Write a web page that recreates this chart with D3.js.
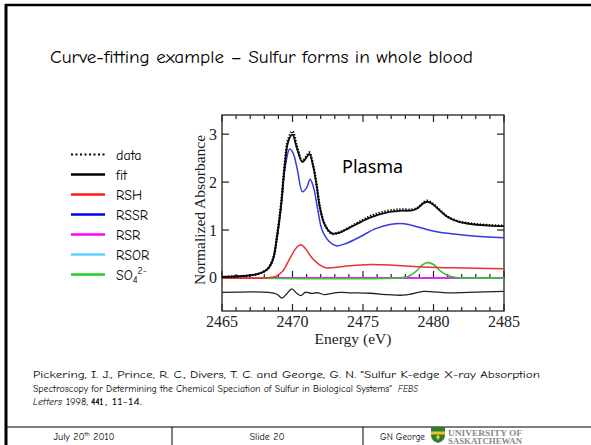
<!DOCTYPE html>
<html>
<head>
<meta charset="utf-8">
<script src="https://cdn.jsdelivr.net/npm/d3@7"></script>
<style>
  body { margin: 0; background: #fff; }
  svg { display: block; }
</style>
</head>
<body>
<svg id="slide" width="591" height="445"></svg>
<script>
// energies (eV) and values
const fitE = [2465, 2466.5, 2467.5, 2468.2, 2468.6, 2468.9, 2469.2, 2469.45, 2469.7, 2470.0, 2470.3, 2470.7, 2471.0, 2471.2, 2471.45, 2471.7, 2471.95, 2472.3, 2472.8, 2473.3, 2474.0, 2474.8, 2475.6, 2476.6, 2477.6, 2478.5, 2478.9, 2479.2, 2479.55, 2479.9, 2480.4, 2481.0, 2481.8, 2482.8, 2484, 2485];
const fitVals = [0.02, 0.04, 0.08, 0.18, 0.38, 0.86, 1.55, 2.35, 2.85, 2.99, 2.72, 2.42, 2.52, 2.59, 2.35, 1.95, 1.46, 1.1, 0.93, 0.94, 1.04, 1.16, 1.27, 1.36, 1.4, 1.41, 1.46, 1.54, 1.59, 1.55, 1.42, 1.27, 1.17, 1.12, 1.09, 1.08];
const dataVals = [0.02, 0.04, 0.08, 0.18, 0.38, 0.87, 1.57, 2.38, 2.9, 3.06, 2.76, 2.44, 2.54, 2.62, 2.37, 1.97, 1.47, 1.11, 0.92, 0.95, 1.05, 1.18, 1.3, 1.39, 1.43, 1.43, 1.47, 1.55, 1.61, 1.56, 1.43, 1.28, 1.18, 1.13, 1.1, 1.09];

const rssrE = [2465, 2466.5, 2467.5, 2468.2, 2468.6, 2468.9, 2469.2, 2469.45, 2469.8, 2470.05, 2470.35, 2470.7, 2471.0, 2471.25, 2471.5, 2471.8, 2472.1, 2472.6, 2473.1, 2473.8, 2474.8, 2475.9, 2477.0, 2477.9, 2478.7, 2479.8, 2481.0, 2482.6, 2485];
const rssrVals = [0.02, 0.04, 0.08, 0.17, 0.36, 0.82, 1.5, 2.25, 2.69, 2.6, 2.25, 1.8, 1.88, 2.06, 1.88, 1.41, 1.0, 0.76, 0.67, 0.72, 0.86, 1.03, 1.12, 1.13, 1.08, 0.99, 0.93, 0.88, 0.84];

const rshE = [2465, 2468.0, 2468.8, 2469.3, 2469.8, 2470.25, 2470.6, 2470.95, 2471.4, 2471.9, 2472.4, 2473.6, 2475.5, 2477.4, 2479.3, 2481.4, 2485];
const rshVals = [0.0, 0.0, 0.03, 0.14, 0.4, 0.62, 0.69, 0.6, 0.41, 0.28, 0.21, 0.24, 0.28, 0.26, 0.23, 0.21, 0.19];

const so4E = [2465, 2477.5, 2478.2, 2478.7, 2479.2, 2479.6, 2480.0, 2480.5, 2481.0, 2481.6, 2485];
const so4Vals = [0, 0, 0.03, 0.12, 0.27, 0.32, 0.28, 0.14, 0.05, 0.01, 0.0];

const flatE = [2465, 2485];
const rsrVals = [0, 0];
const rsorVals = [0, 0];

const resE = [2465, 2468.3, 2468.9, 2469.25, 2469.6, 2469.95, 2470.3, 2470.6, 2470.9, 2471.3, 2471.8, 2472.3, 2472.8, 2473.4, 2474.2, 2475.5, 2476.8, 2477.8, 2478.5, 2479.3, 2480.0, 2481.0, 2482.5, 2485];
const resVals = [-0.3, -0.3, -0.34, -0.42, -0.33, -0.23, -0.32, -0.37, -0.3, -0.32, -0.31, -0.35, -0.32, -0.3, -0.31, -0.32, -0.35, -0.36, -0.33, -0.28, -0.29, -0.31, -0.3, -0.28];

const xTicksMajor = [2465, 2470, 2475, 2480, 2485];
const yTicksMajor = [0, 1, 2, 3];

const legendItems = [
    {name: 'data', color: '#000', dash: '2,2.5'},
    {name: 'fit', color: '#000'},
    {name: 'RSH', color: '#ff1a1a'},
    {name: 'RSSR', color: '#0000e6'},
    {name: 'RSR', color: '#ff00ff'},
    {name: 'RSOR', color: '#66ccff'},
    {name: 'SO4', color: '#22cc22'}
];

const comic = '"Comic Sans MS", "Comic Neue", "Noto Sans", sans-serif';
const serif = '"Liberation Serif", "Times New Roman", serif';

const svg = d3.select('#slide');

//--------------------------------------------------SLIDE FRAME
svg.append('line').attr('x1', 5).attr('x2', 591).attr('y1', 5).attr('y2', 5)
    .attr('stroke', '#000').attr('stroke-width', 2.5);
svg.append('line').attr('x1', 6).attr('x2', 6).attr('y1', 4).attr('y2', 445)
    .attr('stroke', '#000').attr('stroke-width', 3);
svg.append('line').attr('x1', 6).attr('x2', 591).attr('y1', 427).attr('y2', 427)
    .attr('stroke', '#000').attr('stroke-width', 1.2);
[172, 363].forEach(x => {
    svg.append('line').attr('x1', x).attr('x2', x).attr('y1', 427).attr('y2', 445)
        .attr('stroke', '#000').attr('stroke-width', 1);
});

svg.append('text')
    .text('Curve-fitting example – Sulfur forms in whole blood')
    .attr('x', 50).attr('y', 63)
    .attr('textLength', 423).attr('lengthAdjust', 'spacingAndGlyphs')
    .style('font-family', comic).style('font-size', '19px').style('fill', '#000');

//--------------------------------------------------PLOT
const x = d3.scaleLinear().domain([2465, 2485]).range([222, 504]);
const y = d3.scaleLinear().domain([-0.69, 3.4]).range([311, 115]);

const plot = svg.append('g').attr('class', 'plot');

const minorTicks = d3.range(2465, 2486, 1);

// frame
plot.append('rect')
    .attr('x', x(2465)).attr('y', y(3.4))
    .attr('width', x(2485) - x(2465)).attr('height', y(-0.69) - y(3.4))
    .attr('fill', 'none').attr('stroke', '#222').attr('stroke-width', 1.3);

// x ticks: bottom, top and along the zero line (inward)
const tickLen = (d) => (xTicksMajor.includes(d) ? 7 : 4);
minorTicks.forEach(d => {
    plot.append('line').attr('x1', x(d)).attr('x2', x(d))
        .attr('y1', y(-0.69)).attr('y2', y(-0.69) - tickLen(d))
        .attr('stroke', '#222').attr('stroke-width', 1.2);
    plot.append('line').attr('x1', x(d)).attr('x2', x(d))
        .attr('y1', y(3.4)).attr('y2', y(3.4) + tickLen(d))
        .attr('stroke', '#222').attr('stroke-width', 1.2);
    plot.append('line').attr('x1', x(d)).attr('x2', x(d))
        .attr('y1', y(0)).attr('y2', y(0) - tickLen(d))
        .attr('stroke', '#222').attr('stroke-width', 1.2);
});

// y ticks left / right (inward)
yTicksMajor.forEach(d => {
    plot.append('line').attr('x1', x(2465)).attr('x2', x(2465) + 7)
        .attr('y1', y(d)).attr('y2', y(d)).attr('stroke', '#222').attr('stroke-width', 1.2);
    plot.append('line').attr('x1', x(2485)).attr('x2', x(2485) - 7)
        .attr('y1', y(d)).attr('y2', y(d)).attr('stroke', '#222').attr('stroke-width', 1.2);
});

// tick labels
plot.selectAll('.xlab').data(xTicksMajor).enter().append('text')
    .attr('class', 'xlab')
    .text(d => d)
    .attr('x', d => x(d)).attr('y', 327)
    .style('text-anchor', 'middle')
    .style('font-family', serif).style('font-size', '16px').style('fill', '#222');

plot.selectAll('.ylab').data(yTicksMajor).enter().append('text')
    .attr('class', 'ylab')
    .text(d => d)
    .attr('x', 217).attr('y', d => y(d) + 5.5)
    .style('text-anchor', 'end')
    .style('font-family', serif).style('font-size', '16px').style('fill', '#222');

plot.append('text')
    .text('Energy (eV)')
    .attr('x', 353).attr('y', 344)
    .style('text-anchor', 'middle')
    .style('font-family', serif).style('font-size', '15.5px').style('fill', '#222');

plot.append('text')
    .text('Normalized Absorbance')
    .attr('transform', 'translate(205, 210) rotate(-90)')
    .style('text-anchor', 'middle')
    .style('font-family', serif).style('font-size', '15.5px').style('fill', '#222');

// zero baseline
plot.append('line').attr('x1', x(2465)).attr('x2', x(2485))
    .attr('y1', y(0)).attr('y2', y(0)).attr('stroke', '#1a3a1a').attr('stroke-width', 1.4);

const lineOf = (es) => d3.line()
    .x((d, i) => x(es[i]))
    .y(d => y(d))
    .curve(d3.curveCatmullRom.alpha(0.5));

const drawCurve = (es, vals, color, width, dash) => {
    const p = plot.append('path')
        .attr('d', lineOf(es)(vals))
        .attr('fill', 'none')
        .attr('stroke', color)
        .attr('stroke-width', width)
        .attr('stroke-linejoin', 'round');
    if (dash) p.attr('stroke-dasharray', dash);
    return p;
};

drawCurve(flatE, rsorVals, '#66ccff', 1.4);
drawCurve(flatE, rsrVals, '#ff00ff', 1.4);
drawCurve(so4E, so4Vals, '#3cc03c', 1.6);
drawCurve(rshE, rshVals, '#e83030', 1.5);
drawCurve(rssrE, rssrVals, '#3838e0', 1.5);
drawCurve(fitE, fitVals, '#111', 1.8);
drawCurve(fitE, dataVals, '#000', 2.4, '1.3,1.7');
drawCurve(resE, resVals, '#222', 1.3);

plot.append('text')
    .text('Plasma')
    .attr('x', 342).attr('y', 173)
    .style('font-family', '"Noto Sans", sans-serif').style('font-size', '18px').style('fill', '#000');

//--------------------------------------------------LEGEND
const legend = svg.append('g').attr('class', 'legend');
legendItems.forEach((item, i) => {
    const ly = 154.5 + i * 20;
    const ln = legend.append('line')
        .attr('x1', 71).attr('x2', 105).attr('y1', ly).attr('y2', ly)
        .attr('stroke', item.color).attr('stroke-width', 2.4);
    if (item.dash) ln.attr('stroke-dasharray', item.dash).attr('stroke-width', 2);

    const t = legend.append('text')
        .attr('x', 116).attr('y', ly + 5)
        .style('font-family', comic).style('font-size', '14px').style('fill', '#000');
    if (item.name === 'SO4') {
        t.append('tspan').text('SO');
        t.append('tspan').text('4').attr('dy', 3).style('font-size', '10px');
        t.append('tspan').text('2-').attr('dy', -9).style('font-size', '10px');
    } else {
        t.text(item.name);
    }
});

//--------------------------------------------------CITATION
const cite = svg.append('g').style('font-family', comic).style('font-size', '9.5px').style('fill', '#000');
const citePiece = (str, xPos, yPos, len, style) => {
    const t = cite.append('text').attr('x', xPos).attr('y', yPos)
        .attr('textLength', len).attr('lengthAdjust', 'spacingAndGlyphs')
        .text(str);
    if (style === 'italic') t.style('font-style', 'italic');
    if (style === 'bold') t.style('font-weight', 'bold');
    return t;
};
citePiece('Pickering, I. J., Prince, R. C., Divers, T. C. and George, G. N. "Sulfur K-edge X-ray Absorption', 33, 378, 507);
citePiece('Spectroscopy for Determining the Chemical Speciation of Sulfur in Biological Systems"', 33, 391.5, 359);
citePiece('FEBS', 398, 391.5, 20, 'italic');
citePiece('Letters', 33, 405, 29, 'italic');
citePiece('1998,', 66, 405, 22);
citePiece('441', 91, 405, 12, 'bold');
citePiece(', 11-14.', 105, 405, 37);

//--------------------------------------------------FOOTER
const foot = svg.append('g').style('font-family', comic).style('font-size', '10px').style('fill', '#000');
const f1 = foot.append('text').attr('x', 84).attr('y', 440).style('text-anchor', 'middle');
f1.append('tspan').text('July 20');
f1.append('tspan').text('th').attr('dy', -4).style('font-size', '6.5px');
f1.append('tspan').text(' 2010').attr('dy', 4);
foot.append('text').attr('x', 267).attr('y', 440).style('text-anchor', 'middle').text('Slide 20');
foot.append('text').attr('x', 380).attr('y', 440)
    .attr('textLength', 45).attr('lengthAdjust', 'spacingAndGlyphs').text('GN George');

// university shield + wordmark
const logo = svg.append('g');
logo.append('path')
    .attr('d', 'M431,427 L445,427 L445,435 Q445,441 438,443 Q431,441 431,435 Z')
    .attr('fill', '#2e7d32');
logo.append('rect').attr('x', 431).attr('y', 431.5).attr('width', 14).attr('height', 3).attr('fill', '#e8c630');
logo.append('path')
    .attr('d', 'M436,437 L438,434.5 L440,437 L438,440 Z')
    .attr('fill', '#e8c630');
logo.append('text').attr('x', 448).attr('y', 435.5)
    .attr('textLength', 74).attr('lengthAdjust', 'spacingAndGlyphs')
    .style('font-family', serif).style('font-size', '9px').style('font-weight', 'bold').style('fill', '#8a8a8a')
    .text('UNIVERSITY OF');
logo.append('text').attr('x', 448).attr('y', 444)
    .attr('textLength', 74).attr('lengthAdjust', 'spacingAndGlyphs')
    .style('font-family', serif).style('font-size', '9px').style('font-weight', 'bold').style('fill', '#8a8a8a')
    .text('SASKATCHEWAN');
</script>
</body>
</html>
